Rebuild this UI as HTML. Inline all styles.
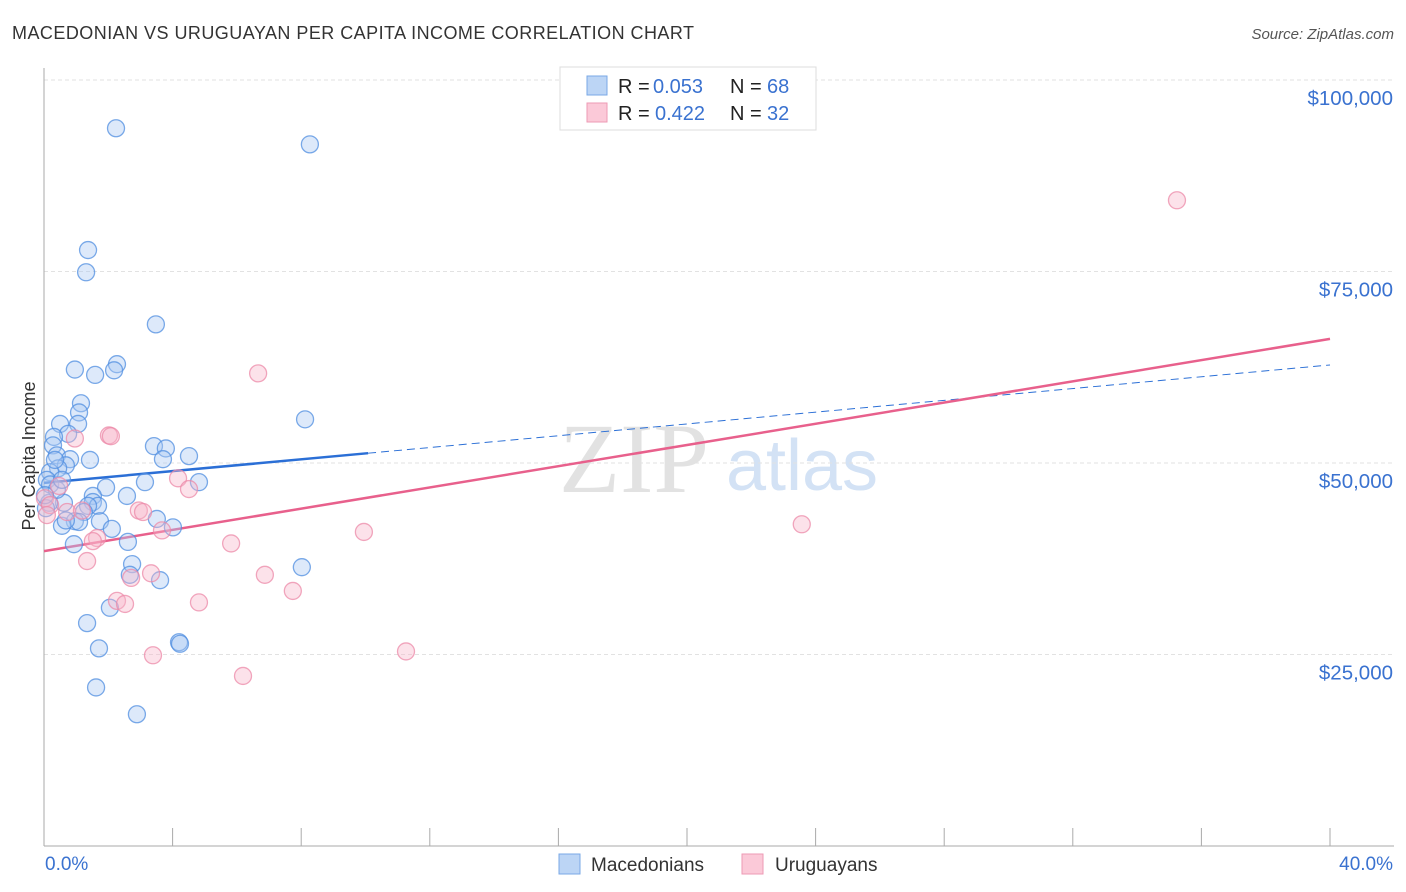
<!DOCTYPE html>
<html><head><meta charset="utf-8"><style>
body{margin:0;background:#fff;font-family:"Liberation Sans",sans-serif;}
#wrap{position:relative;width:1406px;height:892px;overflow:hidden;}
</style></head><body>
<div id="wrap">
<svg id="chart" width="1406" height="892">
<text x="12" y="39" font-size="18" fill="#333" textLength="682">MACEDONIAN VS URUGUAYAN PER CAPITA INCOME CORRELATION CHART</text>
<text x="1394" y="39" font-size="15" fill="#555" font-style="italic" text-anchor="end">Source: ZipAtlas.com</text>
<text x="35" y="456" font-size="18" fill="#333" text-anchor="middle" transform="rotate(-90 35 456)">Per Capita Income</text>
<g>
<text x="634" y="492" font-size="100" fill="#e2e2e2" font-family="Liberation Serif,serif" text-anchor="middle">ZIP</text>
<text x="802" y="490" font-size="72" fill="#d3e2f5" text-anchor="middle">atlas</text>
</g>
<g id="grid"></g><g id="axes"></g><g id="trends"></g><g id="pts"></g>
<g>
<rect x="560" y="67" width="256" height="63" fill="#fff" stroke="#ddd"/>
<rect x="587" y="76" width="20" height="19" fill="#bcd5f5" stroke="#7aa8e6"/>
<rect x="587" y="103" width="20" height="19" fill="#fbc9d8" stroke="#ee9ab4"/>
<text y="93" font-size="20"><tspan x="618" fill="#222">R = </tspan><tspan x="653" fill="#3a72d0">0.053</tspan><tspan x="730" fill="#222">N = </tspan><tspan x="767" fill="#3a72d0">68</tspan></text>
<text y="120" font-size="20"><tspan x="618" fill="#222">R = </tspan><tspan x="655" fill="#3a72d0">0.422</tspan><tspan x="730" fill="#222">N = </tspan><tspan x="767" fill="#3a72d0">32</tspan></text>
</g>
<g>
<rect x="559" y="854" width="21" height="20" fill="#bcd5f5" stroke="#7aa8e6"/>
<text x="591" y="871" font-size="19" fill="#333">Macedonians</text>
<rect x="742" y="854" width="21" height="20" fill="#fbc9d8" stroke="#ee9ab4"/>
<text x="775" y="871" font-size="19" fill="#333">Uruguayans</text>
</g>
</svg>
</div>
<script>
const yTicks=[25000,50000,75000,100000];
const yTickLabels=["$25,000","$50,000","$75,000","$100,000"];
const xTickLabels=["0.0%","40.0%"];
const macX=[2.24,8.27,1.37,1.31,3.48,0.96,2.27,2.18,1.59,1.15,1.09,0.50,1.06,0.75,0.31,0.28,0.40,0.81,0.68,0.44,0.19,0.09,0.19,8.12,3.42,3.79,3.70,4.51,3.14,4.82,1.93,2.58,1.52,1.52,1.68,1.37,0.62,0.16,0.06,1.24,1.74,0.96,1.09,0.56,2.11,3.51,4.01,2.61,0.93,2.74,2.67,3.61,8.02,2.05,1.34,4.20,4.23,1.71,1.62,2.89,0.40,0.03,0.34,1.43,0.68,0.56];
const macY=[93700,91600,77800,74900,68100,62200,62900,62100,61500,57800,56600,55100,55100,53800,53400,52300,51000,50500,49700,49300,48800,47800,47200,55700,52200,51900,50500,50900,47500,47500,46800,45700,45700,44900,44400,44400,44800,44800,44100,43600,42400,42400,42300,41800,41400,42700,41600,39700,39400,36800,35400,34700,36400,31100,29100,26600,26400,25800,20700,17200,46500,45800,50400,50400,42500,47800];
const uruX=[35.24,6.66,0.96,2.02,2.08,4.17,4.51,0.47,0.03,0.19,0.72,1.18,2.95,3.08,3.67,1.65,1.52,5.82,9.95,23.57,1.34,2.71,3.33,6.87,7.74,2.27,2.52,4.82,3.39,6.19,11.26,0.09];
const uruY=[84300,61700,53200,53600,53500,48000,46600,47000,45400,44500,43600,43800,43800,43600,41200,40200,39800,39500,41000,42000,37200,35000,35600,35400,33300,32000,31600,31800,24900,22200,25400,43200];
const macTrend=[47400,62800]; // at x=0 and x=40
const macSolidEnd=10.08;
const uruTrend=[38500,66200];

const NS="http://www.w3.org/2000/svg";
const X0=44,X1=1330,Y0=846,PX_PER=191.5/25000;
const sx=v=>X0+(v/40)*(X1-X0);
const sy=v=>Y0-v*PX_PER;
function mk(tag,attrs,parent){const e=document.createElementNS(NS,tag);for(const k in attrs)e.setAttribute(k,attrs[k]);document.getElementById(parent).appendChild(e);return e;}

yTicks.forEach((t,i)=>{
  const l=mk('line',{x1:X0,x2:1394,y1:sy(t),y2:sy(t),stroke:'#e2e2e2','stroke-dasharray':'4,3'},'grid');
  
  
  const tx=mk('text',{x:1393,y:sy(t)+25,'font-size':20.5,fill:'#3a72d0','text-anchor':'end'},'grid');
  tx.textContent=yTickLabels[i];
  
  
});
const ya=mk('line',{x1:X0,x2:X0,y1:68,y2:Y0,stroke:'#aaa'},'axes');


const xa=mk('line',{x1:X0,x2:1394,y1:Y0,y2:Y0,stroke:'#aaa'},'axes');


for(let i=0;i<=10;i++){
  const tk=mk('line',{x1:sx(i*4),x2:sx(i*4),y1:828,y2:Y0,stroke:'#aaa'},'axes');
  
  
}
const xl0=mk('text',{x:45,y:870,'font-size':19,fill:'#3a72d0'},'axes');
xl0.textContent=xTickLabels[0];


const xl1=mk('text',{x:1393,y:870,'font-size':19,fill:'#3a72d0','text-anchor':'end'},'axes');
xl1.textContent=xTickLabels[1];



function pts(xs,ys,fill,stroke,name){
  xs.forEach((x,i)=>{
    const c=mk('circle',{cx:sx(x),cy:sy(ys[i]),r:8.5,fill:fill,'fill-opacity':0.4,stroke:stroke,'stroke-opacity':0.75,'stroke-width':1.3},'pts');
    
    
  });
}
pts(macX,macY,'#a9c8f2','#4f8ee0','macedonian-point');
pts(uruX,uruY,'#f8b6ca','#ec8aa8','uruguayan-point');

const mf=x=>macTrend[0]+(macTrend[1]-macTrend[0])*x/40;
const t1=mk('line',{x1:sx(0),y1:sy(mf(0)),x2:sx(macSolidEnd),y2:sy(mf(macSolidEnd)),stroke:'#2b6fd6','stroke-width':2.5},'trends');


const t2=mk('line',{x1:sx(macSolidEnd),y1:sy(mf(macSolidEnd)),x2:sx(40),y2:sy(mf(40)),stroke:'#2b6fd6','stroke-width':1,'stroke-dasharray':'8,5'},'trends');


const t3=mk('line',{x1:sx(0),y1:sy(uruTrend[0]),x2:sx(40),y2:sy(uruTrend[1]),stroke:'#e8608c','stroke-width':2.5},'trends');


</script>
</body></html>
